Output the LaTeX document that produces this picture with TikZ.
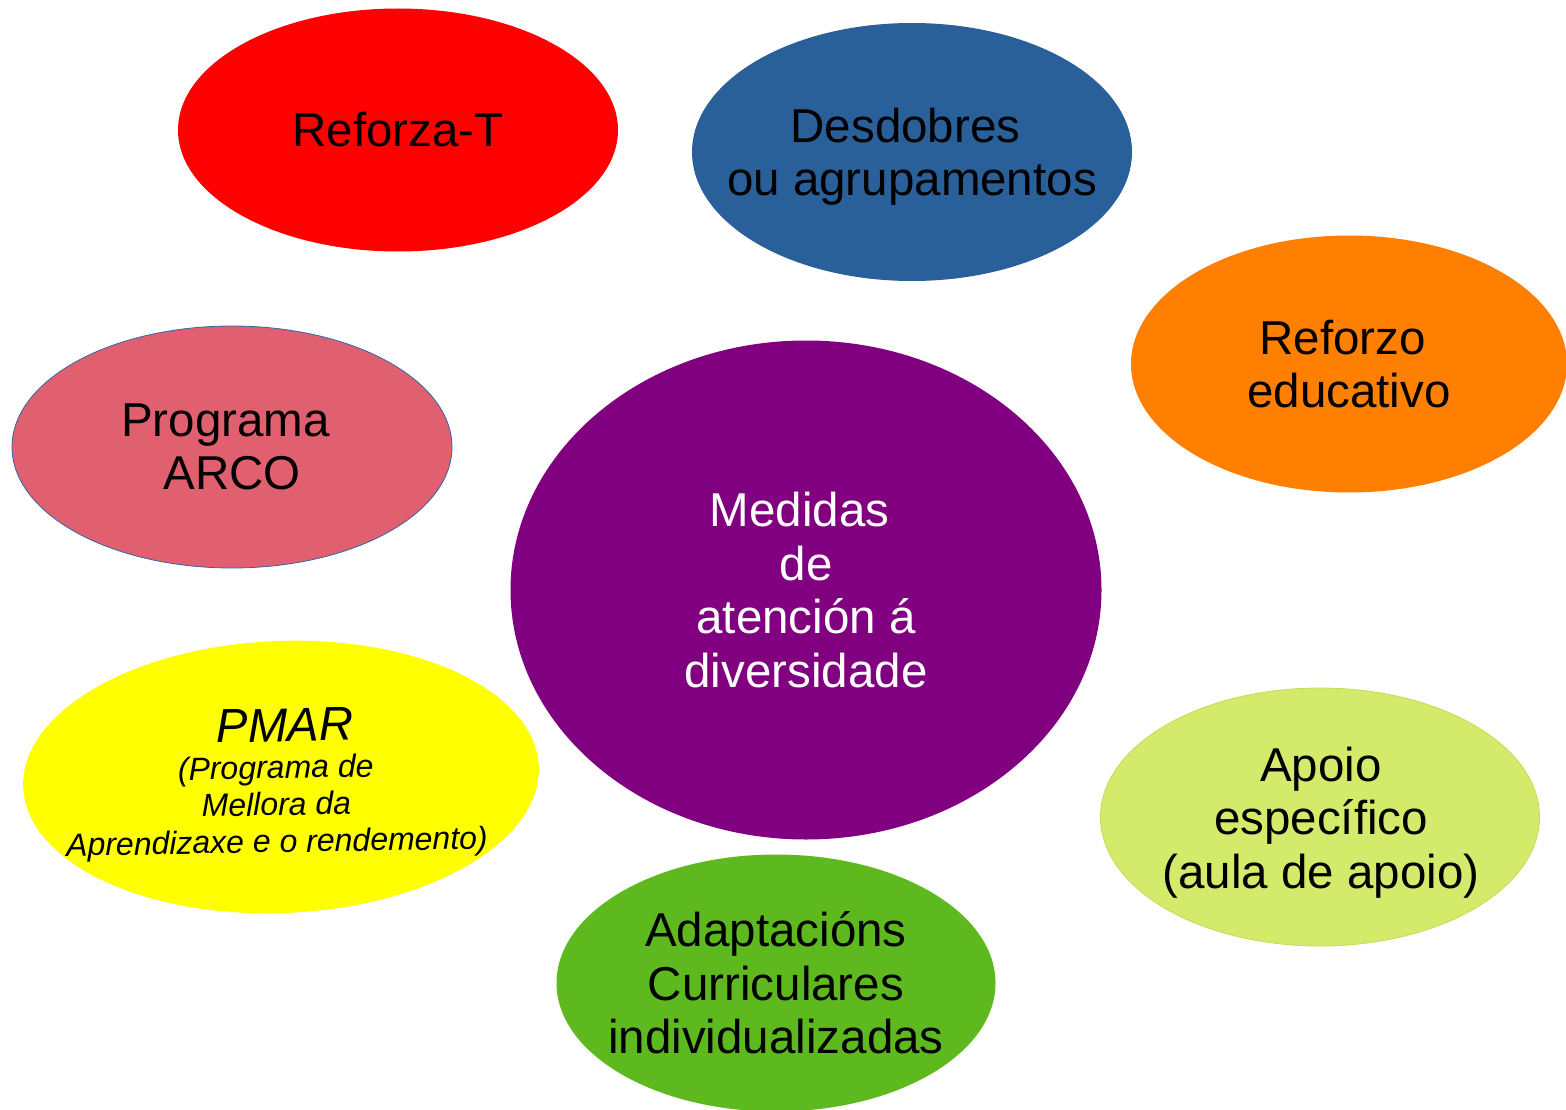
\documentclass[tikz,border=0pt]{standalone}
\usepackage{fontspec}
\setmainfont{Liberation Sans}
\usetikzlibrary{shapes.geometric}
\definecolor{cRed}{HTML}{FF0000}
\definecolor{cBlue}{HTML}{2A6099}
\definecolor{cOrange}{HTML}{FF8000}
\definecolor{cPink}{HTML}{E06070}
\definecolor{cPinkLine}{HTML}{3465A4}
\definecolor{cPurple}{HTML}{800080}
\definecolor{cYellow}{HTML}{FFFF00}
\definecolor{cLime}{HTML}{D4EA6B}
\definecolor{cLimeLine}{HTML}{C2DC55}
\definecolor{cGreen}{HTML}{5EB91E}
\begin{document}
\begin{tikzpicture}[x=1pt,y=-1pt,
  bubble/.style={ellipse, inner sep=0pt, outer sep=0pt},
  label text/.style={align=center, inner sep=0pt,
    font=\fontsize{47.5}{53.5}\selectfont, text=black},
]
\useasboundingbox (0,0) rectangle (1566,1110);
% ellipses
\node[bubble, fill=cRed, minimum width=440pt, minimum height=243pt] (reforzat) at (398,130) {};
\node[bubble, fill=cBlue, minimum width=440pt, minimum height=258pt] (desdobres) at (912,152) {};
\node[bubble, fill=cOrange, minimum width=436pt, minimum height=257pt] (reforzo) at (1349,364) {};
\node[bubble, fill=cPink, draw=cPinkLine, line width=0.8pt, minimum width=440pt, minimum height=242pt] (arco) at (232,447) {};
\node[bubble, fill=cPurple, minimum width=591pt, minimum height=499pt] (medidas) at (806,590) {};
\node[bubble, fill=cYellow, minimum width=516pt, minimum height=272pt, rotate=2.3] (pmar) at (281,777) {};
\node[bubble, fill=cLime, draw=cLimeLine, line width=0.8pt, minimum width=439pt, minimum height=258pt] (apoio) at (1320,817) {};
\node[bubble, fill=cGreen, minimum width=439pt, minimum height=257pt] (acis) at (776,983) {};
% texts
\node[label text] (reforzat-t) at (reforzat) {Reforza-T};
\node[label text] (desdobres-t) at ([yshift=-4.5pt]desdobres) {Desdobres\hspace*{13pt}\\ou agrupamentos};
\node[label text] (reforzo-t) at (reforzo) {Reforzo\hspace*{13pt}\\educativo};
\node[label text] (arco-t) at (arco) {Programa\hspace*{13pt}\\ARCO};
\node[label text, text=white] (medidas-t) at (medidas) {Medidas\hspace*{13pt}\\de\\atención á\\diversidade};
\node[align=center, inner sep=0pt, rotate=1, font=\fontsize{32}{37}\selectfont\itshape] (pmar-t) at (276,784) {{\fontsize{47.5}{50}\selectfont\hspace*{20pt}PMAR}\\(Programa de\\Mellora da\\Aprendizaxe e o rendemento)};
\node[label text] (apoio-t) at ([xshift=1pt,yshift=-5.5pt]apoio) {Apoio\\específico\\(aula de apoio)};
\node[label text] (acis-t) at (acis) {Adaptacións\\Curriculares\\individualizadas};
\end{tikzpicture}
\end{document}
